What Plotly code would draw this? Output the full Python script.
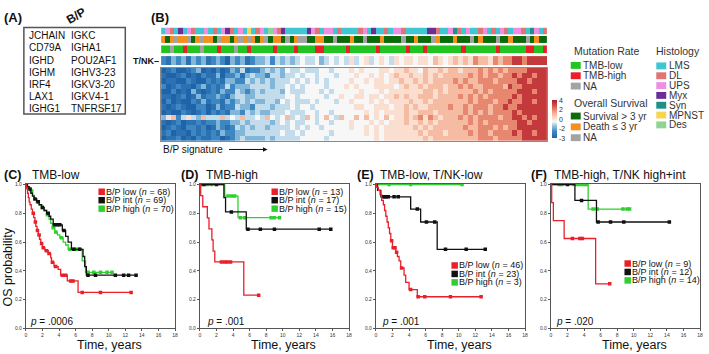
import plotly.graph_objects as go

W, H = 709, 354
FONT = "Liberation Sans, Arial, sans-serif"

# ---------------- Panel A data ----------------
genes_col1 = ["JCHAIN", "CD79A", "IGHD", "IGHM", "IRF4", "LAX1", "IGHG1"]
genes_col2 = ["IGKC", "IGHA1", "POU2AF1", "IGHV3-23", "IGKV3-20", "IGKV4-1", "TNFRSF17"]

# ---------------- Panel B data ----------------
# digit code -> expression z-score (read as levels off the heatmap)
level_values = [-3.0, -2.5, -1.8, -1.0, -0.4, 0.0, 0.6, 1.3, 2.2, 3.4]

heat_rows = [
    "0120012301 0201324122 3434354454 4455455565 6555665667 6657667677 6777878787 88889999",
    "1001201021 1302231343 3244344545 5455545556 5565656766 7667676777 7787878878 89899899",
    "0110021002 1213322434 3434445454 5454555565 5656656676 6767677778 7877888788 88998999",
    "2012110231 2124233344 4434454545 5554555656 5556666567 6676777677 8787788887 98899999",
    "0020103101 2132243234 3444354445 5545455555 6555656666 6667767677 7778787888 88999899",
    "1101201312 2321344334 4444455455 5554556556 6566566767 6677767777 8787878888 89899999",
    "0201002131 2213234343 3443545444 5455545565 5565656666 7667677777 7787888788 98899899",
    "1012100220 1312243324 4434445455 4555555556 6556665667 6766777787 7878887889 88999999",
    "0100210120 2121332434 3344454445 5455455555 5656566667 6677767777 7878787888 89899999",
    "3672464374 4474547445 4754574547 5457547557 5756575667 6786876777 8787888878 89989899",
    "1012011212 2322334344 4434545445 5455455565 5565656667 6676767777 7787878888 88998999",
    "0121022120 1321243434 4344445454 5545555565 5656566666 6767677777 7877888787 88999999",
    "1201102121 2132233444 4444544545 5555455555 5656566666 6676777677 7787887888 89899899",
    "0112010211 2201234333 3434444455 5554555555 5556566666 6667677777 7777888788 88899999",
]
tnk_row = "2132313231 2320323123 3424343454 4534545464 5645654656 6566576567 6768776878 89989999"

hist_row = "LUDLMLUDLL ULDLUMDLUL PLDULEUDML LLLLMUDLUU LDLLLLDULM LLDLUUDLLL LLMMDLLUSD LULLDULDLU DLUUDLSULD"
surv_row = "OGONOONGON OOGNOOGONO NOGONGOOGN GONNGGOOGG NGGGOGGNGG GOGGGGNGGO GGGNOGGGOG GGNGOGGGNG GOGGGNGOGG"
mut_row = "LLNLLHLLLN LLLHLLLNLL HLLLLLHLLL LHLLLLHHLL LLLHLLLLLL HLLLLLLHLL LHLLLLLLLL HLLLLLLLHL LLLLLHHLLH"

hist_keys = ["L", "D", "U", "M", "S", "P", "E"]
hist_names = ["LMS", "DL", "UPS", "Myx", "Syn", "MPNST", "Des"]
hist_colors = ["#3fc6d2", "#e07373", "#f08ee2", "#6a2f96", "#1f8f88", "#f5d654", "#8fd48f"]
surv_keys = ["G", "O", "N"]
surv_names = ["Survival > 3 yr", "Death \u2264 3 yr", "NA"]
surv_colors = ["#0b6b0b", "#f39020", "#a3a3a3"]
mut_keys = ["L", "H", "N"]
mut_names = ["TMB-low", "TMB-high", "NA"]
mut_colors = ["#22c422", "#e8202a", "#a3a3a3"]

cbar_tickvals = [4, 2.25, 0.5, -1.25, -3]
cbar_ticktext = ["4", "2", "0", "-2", "-3"]

# ---------------- Panels C-F data (KM curves) ----------------
c_low_t = [0.05, 0.1, 0.2, 0.3, 0.4, 0.5, 0.65, 0.8, 0.95, 1.1, 1.2, 1.35, 1.5, 1.65, 1.8, 2.0, 2.3, 2.7, 3.0, 3.1, 3.4, 3.9, 4.2, 5.0, 6.3]
c_low_s = [0.985, 0.97, 0.94, 0.91, 0.88, 0.86, 0.83, 0.80, 0.77, 0.74, 0.71, 0.68, 0.65, 0.62, 0.59, 0.56, 0.54, 0.52, 0.49, 0.46, 0.43, 0.41, 0.37, 0.33, 0.25]
c_low_c = [0.9, 1.15, 1.4, 1.6, 1.9, 2.1, 2.5, 2.8, 3.2, 3.6, 4.4, 4.8, 5.4, 5.7, 6.8, 9.0, 12.7]
c_int_t = [0.2, 0.4, 0.6, 0.8, 1.0, 1.3, 1.6, 1.9, 2.2, 2.5, 2.8, 3.0, 3.3, 4.4, 4.8, 5.1, 5.5, 6.9, 7.1, 7.3]
c_int_s = [0.985, 0.97, 0.94, 0.92, 0.90, 0.88, 0.86, 0.84, 0.82, 0.80, 0.78, 0.76, 0.72, 0.68, 0.64, 0.60, 0.55, 0.50, 0.43, 0.37]
c_int_c = [0.5, 1.1, 1.5, 2.0, 2.7, 3.5, 3.8, 4.1, 4.6, 5.8, 6.5, 7.5, 8.4, 10.8, 11.8, 12.4, 13.3]
c_high_t = [0.1, 0.3, 0.5, 0.8, 1.0, 1.3, 1.6, 1.9, 2.2, 2.5, 2.8, 3.0, 3.2, 3.5, 3.8, 4.1, 4.5, 4.8, 5.1, 6.8, 7.2]
c_high_s = [0.985, 0.97, 0.955, 0.925, 0.90, 0.88, 0.86, 0.84, 0.82, 0.79, 0.76, 0.73, 0.70, 0.67, 0.65, 0.63, 0.60, 0.58, 0.55, 0.47, 0.39]
c_high_c = [0.7, 1.4, 2.0, 2.6, 3.3, 3.6, 4.3, 5.3, 5.7, 6.0, 6.4, 7.5, 8.2, 9.0, 9.8, 10.4]

d_low_t = [0.1, 0.35, 0.9, 1.1, 1.45, 1.6, 1.8, 5.3]
d_low_s = [0.923, 0.846, 0.769, 0.692, 0.615, 0.538, 0.462, 0.231]
d_low_c = [2.6, 3.0, 3.3, 3.7, 7.1]
d_int_t = [2.9, 3.1, 5.6]
d_int_s = [0.91, 0.81, 0.69]
d_int_c = [0.5, 2.0, 3.8, 5.8, 7.3, 9.0, 14.4, 15.8]
d_high_t = [3.0, 4.6]
d_high_s = [0.92, 0.77]
d_high_c = [0.2, 0.9, 1.4, 3.4, 3.8, 4.2, 4.9, 5.4, 8.6, 9.0, 9.6]

e_low_t = [0.1, 0.3, 0.5, 0.7, 0.9, 1.05, 1.2, 1.35, 1.5, 1.65, 1.8, 2.0, 2.4, 2.6, 2.8, 3.0, 3.4, 3.6, 4.0, 5.0]
e_low_s = [0.98, 0.96, 0.93, 0.89, 0.86, 0.82, 0.78, 0.74, 0.70, 0.66, 0.61, 0.56, 0.53, 0.50, 0.47, 0.42, 0.37, 0.32, 0.27, 0.22]
e_low_c = [1.9, 2.1, 2.3, 2.5, 3.1, 4.2, 5.1, 5.9, 9.0, 12.7]
e_int_t = [0.2, 0.6, 4.2, 5.4, 7.4]
e_int_s = [0.96, 0.915, 0.83, 0.74, 0.55]
e_int_c = [0.9, 1.1, 1.3, 1.5, 2.2, 2.7, 5.0, 6.1, 7.1, 8.4, 10.9, 13.2]
e_high_t = []
e_high_s = []
e_high_c = [1.6, 4.2, 10.4]

f_low_t = [0.1, 0.3, 1.6, 5.4]
f_low_s = [0.875, 0.75, 0.625, 0.31]
f_low_c = [2.6, 3.5, 3.8, 7.1]
f_int_t = [2.9, 5.5]
f_int_s = [0.89, 0.74]
f_int_c = [2.0, 3.7, 5.7, 7.2, 8.8, 14.3]
f_high_t = [4.5]
f_high_s = [0.83]
f_high_c = [1.0, 1.3, 2.8, 3.2, 3.6, 4.0, 4.3, 5.1, 5.6, 8.7, 9.2, 9.5]

n_C = [68, 69, 70]
n_D = [13, 17, 15]
n_E = [46, 23, 3]
n_F = [9, 12, 14]
p_values = ["p = .0006", "p = .001", "p = .001", "p = .020"]
panel_letters = ["(C)", "(D)", "(E)", "(F)"]
panel_titles = ["TMB-low", "TMB-high", "TMB-low, T/NK-low", "TMB-high, T/NK high+int"]
group_names = ["B/P low", "B/P int", "B/P high"]
group_colors = ["#e8202a", "#111111", "#2fcf2f"]

x_ticks = list(range(0, 19, 2))
y_ticks = [0.0, 0.2, 0.4, 0.6, 0.8, 1.0]

# ======================================================================
def px(x):
    return x / W


def py(y):
    return 1 - y / H


def clean(s):
    return s.replace(" ", "")


fig = go.Figure()
layout = dict(width=W, height=H, margin=dict(l=0, r=0, t=0, b=0),
              paper_bgcolor="white", plot_bgcolor="white",
              font=dict(family=FONT, color="#222"), showlegend=False)

annotations = []
shapes = []


def text(x, y, s, size, xanchor="left", yanchor="middle", bold=False, color="#111", angle=0):
    annotations.append(dict(x=px(x), y=py(y), xref="paper", yref="paper", text=("<b>%s</b>" % s) if bold else s,
                            showarrow=False, xanchor=xanchor, yanchor=yanchor, textangle=angle, borderpad=0,
                            font=dict(size=size, color=color, family=FONT)))


def square(x0, y0, x1, y1, color):
    shapes.append(dict(type="rect", xref="paper", yref="paper", x0=px(x0), x1=px(x1), y0=py(y1), y1=py(y0),
                       fillcolor=color, line=dict(width=0)))


def hidden_axes(idx, top, bottom, n, border=False):
    xa = dict(domain=[px(161), px(549)], range=[-0.5, n - 0.5], visible=border, showticklabels=False,
              ticks="", showgrid=False, zeroline=False, anchor="y%d" % idx)
    ya = dict(domain=[py(bottom), py(top)], visible=border, showticklabels=False, ticks="",
              showgrid=False, zeroline=False, anchor="x%d" % idx, autorange="reversed")
    if border:
        xa.update(showline=True, mirror=True, linecolor="#8a8a8a", linewidth=1)
        ya.update(showline=True, mirror=True, linecolor="#8a8a8a", linewidth=1)
    layout["xaxis%d" % idx] = xa
    layout["yaxis%d" % idx] = ya


def discrete_scale(colors):
    n = len(colors)
    sc = []
    for k, c in enumerate(colors):
        sc.append([k / n, c])
        sc.append([(k + 1) / n, c])
    return sc


# ---------------- Panel A ----------------
text(2, 15, "(A)", 13, bold=True)
text(75, 13, "B/P", 12, xanchor="center", bold=True, angle=-30)
shapes.append(dict(type="rect", xref="paper", yref="paper", x0=px(23), x1=px(125), y0=py(113), y1=py(25),
                   line=dict(color="#555", width=1.5)))
for i, (g1, g2) in enumerate(zip(genes_col1, genes_col2)):
    yy = 33.3 + i * 12.4
    text(27, yy, g1, 10)
    text(69, yy, g2, 10)

# ---------------- Panel B ----------------
text(150, 15, "(B)", 13, bold=True)

rdbu = [[0.0, "#1f63a8"], [0.18, "#3f8ac4"], [0.33, "#9cc8e2"], [0.4286, "#f7f7f7"],
        [0.55, "#fbd3bf"], [0.7, "#f09c7e"], [0.85, "#d3524a"], [1.0, "#b01a2a"]]

# annotation rows
ann_rows = [(hist_row, hist_keys, hist_colors, 25, 32),
            (surv_row, surv_keys, surv_colors, 33.5, 41),
            (mut_row, mut_keys, mut_colors, 43, 51)]
for i, (row, keys, colors, top, bottom) in enumerate(ann_rows):
    idx = i + 1
    codes = [keys.index(ch) for ch in clean(row)]
    hidden_axes(idx, top, bottom, len(codes))
    fig.add_trace(go.Heatmap(z=[codes], x=list(range(len(codes))), y=[0], colorscale=discrete_scale(colors),
                             zmin=-0.5, zmax=len(colors) - 0.5, showscale=False,
                             xaxis="x%d" % idx, yaxis="y%d" % idx, hoverinfo="skip"))

# T/NK row
tnk_vals = [level_values[int(ch)] for ch in clean(tnk_row)]
hidden_axes(4, 54, 63, len(tnk_vals))
fig.add_trace(go.Heatmap(z=[tnk_vals], x=list(range(len(tnk_vals))), y=[0], colorscale=rdbu,
                         zmin=-3, zmax=4, showscale=False, xaxis="x4", yaxis="y4", hoverinfo="skip"))
text(160, 58.5, "T/NK\u2013", 9, xanchor="right", bold=True)

# main heatmap
z = [[level_values[int(ch)] for ch in clean(r)] for r in heat_rows]
ncol = len(z[0])
hidden_axes(5, 66, 140, ncol, border=True)
fig.add_trace(go.Heatmap(z=z, x=list(range(ncol)), y=list(range(len(z))), colorscale=rdbu, zmin=-3, zmax=4,
                         xaxis="x5", yaxis="y5", hoverinfo="skip",
                         colorbar=dict(x=px(554), xanchor="left", y=py(118.5), yanchor="middle",
                                       len=39 / H, lenmode="fraction", thickness=5, thicknessmode="pixels",
                                       tickvals=cbar_tickvals, ticktext=cbar_ticktext, ticks="",
                                       tickfont=dict(size=7, color="#333"), outlinewidth=0, xpad=0, ypad=0,
                                       ticklabelposition="outside")))
text(162, 149, "B/P signature", 10)
annotations.append(dict(x=px(268), y=py(149), xref="paper", yref="paper", ax=-40, ay=0, text="",
                        showarrow=True, arrowhead=2, arrowsize=0.9, arrowwidth=1, arrowcolor="#111"))

# B legends
text(575, 49, "Mutation Rate", 10.5, color="#333")
for k, (nm, col) in enumerate(zip(mut_names, mut_colors)):
    yy = 63.5 + k * 10.5
    square(573, yy - 3.5, 583, yy + 3.5, col)
    text(584.5, yy, nm, 10, color="#333")
text(575, 102, "Overall Survival", 10.5, color="#333")
for k, (nm, col) in enumerate(zip(surv_names, surv_colors)):
    yy = 115 + k * 11
    square(573, yy - 3.5, 583, yy + 3.5, col)
    text(584.5, yy, nm, 10, color="#333")
text(658, 49, "Histology", 10.5, color="#333")
for k, (nm, col) in enumerate(zip(hist_names, hist_colors)):
    yy = 64 + k * 10
    square(659, yy - 3.5, 669, yy + 3.5, col)
    text(670.5, yy, nm, 10, color="#333")

# ---------------- Panels C-F ----------------
panels = [
    ([(c_low_t, c_low_s, c_low_c), (c_int_t, c_int_s, c_int_c), (c_high_t, c_high_s, c_high_c)], n_C),
    ([(d_low_t, d_low_s, d_low_c), (d_int_t, d_int_s, d_int_c), (d_high_t, d_high_s, d_high_c)], n_D),
    ([(e_low_t, e_low_s, e_low_c), (e_int_t, e_int_s, e_int_c), (e_high_t, e_high_s, e_high_c)], n_E),
    ([(f_low_t, f_low_s, f_low_c), (f_int_t, f_int_s, f_int_c), (f_high_t, f_high_s, f_high_c)], n_F),
]
panel_x = [(25, 175), (200, 350), (377, 527), (553, 703)]
title_x = [(2, 30), (180, 205), (357, 380), (532, 555)]
legend_pos = [(98, 192), (272, 192), (453, 267), (627, 265)]
p_x = [28, 206, 382, 557]


def surv_at(times, survs, t):
    s = 1.0
    for ti, si in zip(times, survs):
        if ti <= t:
            s = si
    return s


for p, ((curves, ns), (x0, x1)) in enumerate(zip(panels, panel_x)):
    idx = 6 + p
    layout["xaxis%d" % idx] = dict(domain=[px(x0), px(x1)], range=[0, 18], tickvals=x_ticks,
                                   tickfont=dict(size=5, color="#333"), ticks="outside", ticklen=1.5,
                                   tickcolor="#555", showline=True, mirror=True, linecolor="#555", linewidth=1,
                                   showgrid=False, zeroline=False, anchor="y%d" % idx, fixedrange=True)
    layout["yaxis%d" % idx] = dict(domain=[py(331), py(184)], range=[0, 1.005], tickvals=y_ticks,
                                   ticktext=["%.1f" % v for v in y_ticks],
                                   tickfont=dict(size=5, color="#333"), ticks="outside", ticklen=2,
                                   tickcolor="#555", showline=True, mirror=True, linecolor="#555", linewidth=1,
                                   showgrid=False, zeroline=False, anchor="x%d" % idx, fixedrange=True)
    for g in [2, 1, 0]:
        times, survs, cens = curves[g]
        tend = max(list(times) + list(cens))
        xs = [0] + list(times) + [tend]
        ys = [1.0] + list(survs) + [survs[-1] if survs else 1.0]
        fig.add_trace(go.Scatter(x=xs, y=ys, mode="lines", line=dict(color=group_colors[g], width=1.3, shape="hv"),
                                 xaxis="x%d" % idx, yaxis="y%d" % idx, hoverinfo="skip"))
        fig.add_trace(go.Scatter(x=cens, y=[surv_at(times, survs, c) for c in cens], mode="markers",
                                 marker=dict(symbol="square", size=3.5, color=group_colors[g]),
                                 xaxis="x%d" % idx, yaxis="y%d" % idx, hoverinfo="skip"))
    lx, tx = title_x[p]
    text(lx, 175, panel_letters[p], 12.5, bold=True)
    text(tx, 175, panel_titles[p], 12)
    sx, sy = legend_pos[p]
    for g in range(3):
        yy = sy + g * 8.6
        square(sx, yy - 3.3, sx + 6.5, yy + 3.3, group_colors[g])
        text(sx + 7, yy, "%s (<i>n</i> = %d)" % (group_names[g], ns[g]), 9)
    pv = p_values[p].split(" ", 1)
    text(p_x[p], 324, "<i>%s</i> %s" % (pv[0], pv[1]), 10)
    text((x0 + x1) / 2 + 9, 347.5, "Time, years", 12.5, xanchor="center")

text(8, 268, "OS probability", 12.5, xanchor="center", angle=-90)

layout["annotations"] = annotations
layout["shapes"] = shapes
fig.update_layout(**layout)
fig.write_html("out.html", config={"displayModeBar": False, "staticPlot": True},
               post_script="document.body.style.margin='0';document.body.style.padding='0';document.body.style.overflow='hidden';")
